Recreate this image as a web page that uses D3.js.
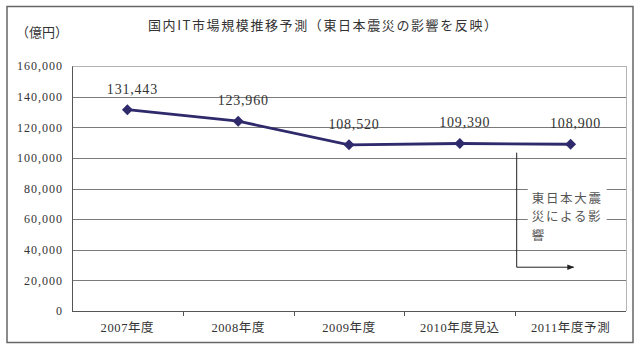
<!DOCTYPE html>
<html>
<head>
<meta charset="utf-8">
<script src="https://cdn.jsdelivr.net/npm/d3@7"></script>
<style>
  body { margin: 0; background: #fff; }
  svg { display: block; }
  .tick-label { font-family: "Liberation Serif", "Noto Sans CJK JP", serif; fill: #333; }
</style>
</head>
<body>
<script>
const years = ["2007年度", "2008年度", "2009年度", "2010年度見込", "2011年度予測"];
const marketSize = [131443, 123960, 108520, 109390, 108900];
const yTicks = [0, 20000, 40000, 60000, 80000, 100000, 120000, 140000, 160000];
const chartTitle = "国内IT市場規模推移予測（東日本震災の影響を反映）";
const unitLabel = "（億円）";
const noteLines = ["東日本大震", "災による影", "響"];

const W = 640, H = 352;
const margin = { top: 66, right: 14, bottom: 41, left: 72 },
      w = W - margin.left - margin.right,
      h = H - margin.top - margin.bottom;

const svg = d3.select("body")
  .append("svg")
  .attr("width", W)
  .attr("height", H);

// outer frame
svg.append("rect")
  .attr("x", 7)
  .attr("y", 6.5)
  .attr("width", 626)
  .attr("height", 336)
  .attr("fill", "#fff")
  .attr("stroke", "#666")
  .attr("stroke-width", 1.5);

const xScale = d3.scaleBand()
  .domain(years)
  .range([margin.left, margin.left + w]);

const yScale = d3.scaleLinear()
  .domain([0, 160000])
  .range([margin.top + h, margin.top]);

const fmt = d3.format(",");

// gridlines
svg.append("g")
  .selectAll("line")
  .data(yTicks.filter(d => d > 0))
  .enter()
  .append("line")
  .attr("x1", margin.left)
  .attr("x2", margin.left + w)
  .attr("y1", d => Math.round(yScale(d)) + 0.5)
  .attr("y2", d => Math.round(yScale(d)) + 0.5)
  .attr("stroke", d => d === 160000 ? "#b4b4b4" : "#7a7a7a")
  .attr("stroke-width", 1);

// right edge of plot area
svg.append("line")
  .attr("x1", margin.left + w + 0.5)
  .attr("x2", margin.left + w + 0.5)
  .attr("y1", margin.top)
  .attr("y2", margin.top + h)
  .attr("stroke", "#b4b4b4");

// y axis
const yAxis = d3.axisLeft(yScale)
  .tickValues(yTicks)
  .tickFormat(fmt)
  .tickSize(0)
  .tickPadding(9);

const gy = svg.append("g")
  .attr("transform", "translate(" + margin.left + ",0)")
  .call(yAxis);
gy.select(".domain").attr("stroke", "#555");
gy.selectAll("text")
  .attr("class", "tick-label")
  .style("font-size", "12px")
  .style("letter-spacing", "1px");

// x axis
const gx = svg.append("g")
  .attr("transform", "translate(0," + (margin.top + h) + ")");
gx.append("line")
  .attr("x1", margin.left)
  .attr("x2", margin.left + w)
  .attr("y1", 0.5)
  .attr("y2", 0.5)
  .attr("stroke", "#555");
gx.selectAll(".xtick")
  .data(years.slice(1))
  .enter()
  .append("line")
  .attr("x1", d => Math.round(xScale(d)) + 0.5)
  .attr("x2", d => Math.round(xScale(d)) + 0.5)
  .attr("y1", 0)
  .attr("y2", 5)
  .attr("stroke", "#555");
gx.selectAll(".xlabel")
  .data(years)
  .enter()
  .append("text")
  .attr("class", "tick-label")
  .attr("x", d => xScale(d) + xScale.bandwidth() / 2)
  .attr("y", 21)
  .attr("text-anchor", "middle")
  .style("font-size", "12.5px")
  .style("letter-spacing", "0.6px")
  .text(d => d);

// annotation: vertical line + arrow
const defs = svg.append("defs");
defs.append("marker")
  .attr("id", "arrow")
  .attr("viewBox", "0 0 10 10")
  .attr("refX", 9)
  .attr("refY", 5)
  .attr("markerWidth", 7)
  .attr("markerHeight", 7)
  .attr("orient", "auto")
  .append("path")
  .attr("d", "M0,1 L10,5 L0,9 Z")
  .attr("fill", "#222");

const noteX = xScale(years[4]) + 1.5;
svg.append("path")
  .attr("d", "M" + noteX + "," + yScale(103400) + " V" + yScale(28600) + " H" + (xScale(years[4]) + xScale.bandwidth() / 2 + 3))
  .attr("fill", "none")
  .attr("stroke", "#222")
  .attr("stroke-width", 1)
  .attr("marker-end", "url(#arrow)");

svg.append("rect")
  .attr("x", noteX + 11)
  .attr("y", yScale(82500))
  .attr("width", 79)
  .attr("height", 60)
  .attr("fill", "#fff");

const note = svg.append("text")
  .attr("x", noteX + 15)
  .attr("y", 203)
  .style("font-family", "'Noto Sans CJK JP', sans-serif")
  .style("font-size", "12.5px")
  .style("letter-spacing", "1.7px")
  .style("fill", "#555");
note.selectAll("tspan")
  .data(noteLines)
  .enter()
  .append("tspan")
  .attr("x", noteX + 15)
  .attr("dy", (d, i) => i === 0 ? 0 : 18.4)
  .text(d => d);

// series line
const pts = years.map((d, i) => ({ cat: d, v: marketSize[i] }));
const line = d3.line()
  .x(d => xScale(d.cat) + xScale.bandwidth() / 2)
  .y(d => yScale(d.v));

svg.append("path")
  .datum(pts)
  .attr("d", line)
  .attr("fill", "none")
  .attr("stroke", "#2e2a6b")
  .attr("stroke-width", 2.8);

svg.selectAll(".pt")
  .data(pts)
  .enter()
  .append("path")
  .attr("class", "pt")
  .attr("transform", d => "translate(" + (xScale(d.cat) + xScale.bandwidth() / 2) + "," + yScale(d.v) + ") rotate(45)")
  .attr("d", d3.symbol().type(d3.symbolSquare).size(60))
  .attr("fill", "#2e2a6b");

// value labels
svg.selectAll(".val")
  .data(pts)
  .enter()
  .append("text")
  .attr("class", "tick-label")
  .attr("x", d => xScale(d.cat) + xScale.bandwidth() / 2 + 5)
  .attr("y", d => yScale(d.v) - 16)
  .attr("text-anchor", "middle")
  .style("font-size", "14px")
  .style("letter-spacing", "0.8px")
  .text(d => fmt(d.v));

// titles
svg.append("text")
  .attr("x", 148)
  .attr("y", 30)
  .style("font-family", "'Noto Sans CJK JP', sans-serif")
  .style("font-size", "13px")
  .style("letter-spacing", "1.6px")
  .style("fill", "#333")
  .text(chartTitle);

svg.append("text")
  .attr("x", 16)
  .attr("y", 37)
  .style("font-family", "'Noto Sans CJK JP', sans-serif")
  .style("font-size", "13px")
  .style("fill", "#333")
  .text(unitLabel);
</script>
</body>
</html>
